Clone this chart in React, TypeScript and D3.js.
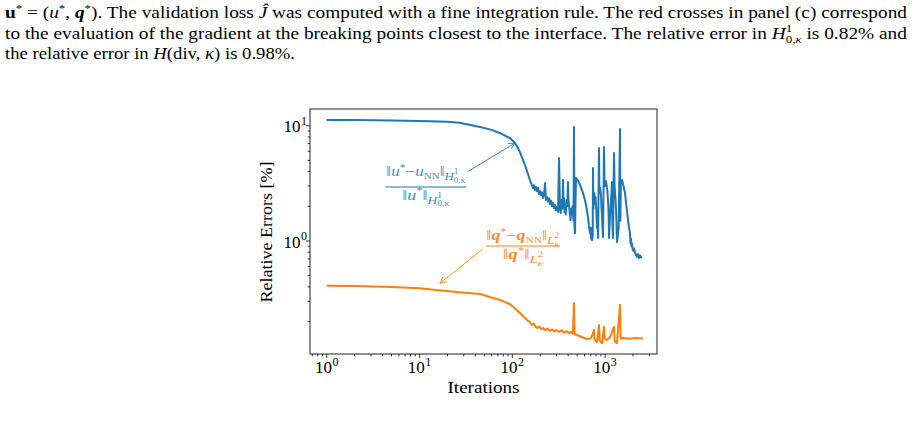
import React from "react";
import * as d3 from "d3";

// relative H^1 error of u, [iteration, percent]
const uError: [number, number][] = [
  [1, 11.2], [2, 11.2], [5, 11.1], [10, 11.0], [20, 10.8], [27, 10.6], [45, 9.75],
  [60, 9.2], [73, 8.65], [94, 7.82], [107, 7.08], [121, 5.91], [137, 4.56], [155, 3.38],
  [167, 2.88], [171, 3.05], [176, 2.77], [180, 2.95], [185, 2.7], [190, 2.9], [194, 2.56],
  [199, 2.7], [204, 2.5], [209, 2.65], [214, 2.36], [220, 2.5], [225, 3.18], [231, 2.27],
  [237, 2.4], [243, 2.2], [249, 2.35], [255, 2.09], [261, 2.25], [268, 2.0], [274, 2.15],
  [281, 1.93], [288, 2.05], [296, 1.85], [303, 1.98], [311, 1.78], [319, 5.25], [327, 1.86],
  [333, 1.75], [339, 2.27], [346, 1.9], [352, 3.38], [357, 2.0], [361, 2.35], [366, 1.78],
  [370, 2.0], [377, 1.7], [384, 2.27], [391, 2.0], [398, 3.25], [403, 2.3], [408, 2.05],
  [416, 1.75], [424, 1.52], [432, 1.9], [440, 1.7], [446, 2.0], [451, 1.68], [457, 1.5],
  [462, 9.75], [468, 1.3], [474, 1.17], [480, 2.2], [486, 3.52], [510, 3.35], [537, 3.06],
  [570, 2.7], [607, 2.27], [630, 1.95], [654, 1.61], [670, 1.35], [688, 1.17], [700, 1.3],
  [705, 1.05], [712, 1.25], [722, 1.02], [735, 1.1], [741, 4.3], [748, 1.9], [755, 2.5],
  [760, 2.1], [768, 2.6], [775, 2.1], [790, 2.4], [805, 1.8], [820, 1.3], [828, 1.6],
  [840, 1.06], [860, 6.41], [868, 2.6], [885, 2.9], [903, 2.5], [915, 1.9], [925, 1.7],
  [938, 1.3], [950, 1.08], [973, 6.53], [985, 3.4], [1000, 3.0], [1023, 3.3], [1045, 2.9],
  [1060, 2.7], [1075, 2.2], [1085, 2.0], [1095, 1.5], [1102, 1.06], [1115, 1.3], [1130, 1.6],
  [1160, 2.3], [1187, 3.25], [1195, 2.0], [1200, 1.4], [1215, 1.06], [1247, 5.8], [1265, 3.0],
  [1300, 2.2], [1315, 1.8], [1330, 1.3], [1343, 0.98], [1370, 1.1], [1400, 1.3], [1448, 9.36],
  [1460, 1.5], [1480, 3.2], [1521, 3.38], [1580, 3.0], [1638, 2.61], [1700, 2.0], [1766, 1.52],
  [1810, 1.3], [1854, 1.17], [1880, 0.95], [1900, 1.05], [1925, 0.9], [1950, 0.95], [1980, 0.85],
  [2020, 0.82], [2060, 0.86], [2100, 0.79], [2150, 0.76], [2207, 0.73], [2260, 0.77],
  [2320, 0.71], [2380, 0.75], [2440, 0.72], [2500, 0.73],
];

// relative L^2 error of q, [iteration, percent]
const qError: [number, number][] = [
  [1, 0.409], [2, 0.408], [5, 0.4], [10, 0.389], [15, 0.376], [25, 0.362], [45, 0.347],
  [57, 0.327], [74, 0.308], [94, 0.284], [112, 0.252], [127, 0.228], [144, 0.206], [155, 0.198],
  [163, 0.187], [170, 0.192], [178, 0.18], [185, 0.176], [195, 0.182], [205, 0.172], [215, 0.176],
  [228, 0.168], [240, 0.174], [255, 0.166], [270, 0.171], [285, 0.164], [300, 0.169], [320, 0.163],
  [340, 0.168], [360, 0.161], [388, 0.165], [410, 0.159], [430, 0.163], [450, 0.157], [462, 0.29],
  [470, 0.155], [498, 0.153], [560, 0.147], [638, 0.141], [700, 0.143], [722, 0.15], [759, 0.169],
  [770, 0.14], [818, 0.133], [860, 0.187], [875, 0.137], [926, 0.13], [973, 0.18], [990, 0.142],
  [1047, 0.138], [1128, 0.147], [1247, 0.18], [1270, 0.135], [1343, 0.13], [1448, 0.279],
  [1470, 0.142], [1560, 0.144], [1800, 0.142], [2100, 0.144], [2563, 0.143],
];

const xMajor = [1, 10, 100, 1000];
const xMajorExp = ["0", "1", "2", "3"];
const yMajor = [1, 10];
const yMajorExp = ["0", "1"];

// annotation anchors (data coords)
const uLabelAt: [number, number] = [11.7, 2.94];
const uArrowTip: [number, number] = [107, 7.08];
const qLabelAt: [number, number] = [130, 0.905];
const qArrowTip: [number, number] = [16.6, 0.43];

const BLUE = "#1f77b4";
const ORANGE = "#ff7f0e";
const SERIF = "'Liberation Serif', 'DejaVu Serif', serif";

const plot = { left: 310, right: 657, top: 109, bottom: 354 };

function arrow(x1: number, y1: number, x2: number, y2: number) {
  const a = Math.atan2(y2 - y1, x2 - x1);
  const len = 7, spread = 0.45;
  const p1 = [x2 - len * Math.cos(a - spread), y2 - len * Math.sin(a - spread)];
  const p2 = [x2 - len * Math.cos(a + spread), y2 - len * Math.sin(a + spread)];
  return `M${x1},${y1}L${x2},${y2}M${p1[0]},${p1[1]}L${x2},${y2}L${p2[0]},${p2[1]}`;
}

// H^1_{0,κ} or L^2_κ style norm subscript
function NormSub({ base, sup, sub, subItalic }: { base: string; sup: string; sub: string; subItalic?: boolean }) {
  return (
    <>
      <tspan fontSize={10.5} fontStyle="italic" dy={4}>{base}</tspan>
      <tspan fontSize={7.5} dy={-6}>{sup}</tspan>
      <tspan fontSize={7.5} dx={-3.8} dy={8.5} fontStyle={subItalic ? "italic" : "normal"}>{sub}</tspan>
    </>
  );
}

export default function App() {
  const x = d3.scaleLog().domain([0.661, 3625]).range([plot.left, plot.right]);
  const y = d3.scaleLog().domain([0.1047, 13.96]).range([plot.bottom, plot.top]);

  const line = d3
    .line<[number, number]>()
    .x((d) => x(d[0]))
    .y((d) => y(d[1]));

  const [xd0, xd1] = x.domain();
  const [yd0, yd1] = y.domain();
  const xMinor: number[] = [];
  for (let k = -1; k <= 3; k++)
    for (let m = 2; m <= 9; m++) {
      const v = m * Math.pow(10, k);
      if (v >= xd0 && v <= xd1) xMinor.push(v);
    }
  const yMinor: number[] = [];
  for (let k = -1; k <= 1; k++)
    for (let m = 2; m <= 9; m++) {
      const v = m * Math.pow(10, k);
      if (v >= yd0 && v <= yd1) yMinor.push(v);
    }

  const ux = x(uLabelAt[0]), uy = y(uLabelAt[1]);
  const qx = x(qLabelAt[0]), qy = y(qLabelAt[1]);

  return (
    <svg width={915} height={442} style={{ position: "absolute", left: 0, top: 0 }} fontFamily={SERIF}>
      <rect width={915} height={442} fill="#fff" />

      {/* paragraph above the figure */}
      <g fontSize={16.5} fill="#000">
        <text x={5} y={18} textLength={902} lengthAdjust="spacingAndGlyphs">
          <tspan fontWeight="bold">u</tspan>
          <tspan fontSize={11} dy={-6}>*</tspan>
          <tspan dy={6}> = (</tspan>
          <tspan fontStyle="italic">u</tspan>
          <tspan fontSize={11} dy={-6}>*</tspan>
          <tspan dy={6}>, </tspan>
          <tspan fontStyle="italic" fontWeight="bold">q</tspan>
          <tspan fontSize={11} dy={-6}>*</tspan>
          <tspan dy={6}>). The validation loss </tspan>
          <tspan fontStyle="italic">Ĵ</tspan>
          <tspan> was computed with a fine integration rule. The red crosses in panel (c) correspond</tspan>
        </text>
        <text x={5} y={38.5} textLength={902} lengthAdjust="spacingAndGlyphs">
          <tspan>to the evaluation of the gradient at the breaking points closest to the interface. The relative error in </tspan>
          <tspan fontStyle="italic">H</tspan>
          <tspan fontSize={11} dy={-7}>1</tspan>
          <tspan fontSize={11} dx={-5.5} dy={11}>0,</tspan>
          <tspan fontSize={11} fontStyle="italic">κ</tspan>
          <tspan dy={-4}> is 0.82% and</tspan>
        </text>
        <text x={5} y={59} textLength={290} lengthAdjust="spacingAndGlyphs">
          <tspan>the relative error in </tspan>
          <tspan fontStyle="italic">H</tspan>
          <tspan>(div, </tspan>
          <tspan fontStyle="italic">κ</tspan>
          <tspan>) is 0.98%.</tspan>
        </text>
      </g>

      <defs>
        <clipPath id="plotclip">
          <rect x={plot.left} y={plot.top} width={plot.right - plot.left} height={plot.bottom - plot.top} />
        </clipPath>
      </defs>

      {/* data */}
      <g clipPath="url(#plotclip)" fill="none" strokeWidth={2} strokeLinejoin="round">
        <path d={line(uError) || ""} stroke={BLUE} />
        <path d={line(qError) || ""} stroke={ORANGE} />
      </g>

      {/* frame */}
      <rect x={plot.left} y={plot.top} width={plot.right - plot.left} height={plot.bottom - plot.top}
        fill="none" stroke="#222" strokeWidth={1} />

      {/* ticks */}
      <g stroke="#000" strokeWidth={0.8}>
        {xMajor.map((v) => (
          <line key={"xM" + v} x1={x(v)} x2={x(v)} y1={plot.bottom} y2={plot.bottom + 4} />
        ))}
        {xMinor.map((v) => (
          <line key={"xm" + v} x1={x(v)} x2={x(v)} y1={plot.bottom} y2={plot.bottom + 2.3} />
        ))}
        {yMajor.map((v) => (
          <line key={"yM" + v} x1={plot.left - 4} x2={plot.left} y1={y(v)} y2={y(v)} />
        ))}
        {yMinor.map((v) => (
          <line key={"ym" + v} x1={plot.left - 2.3} x2={plot.left} y1={y(v)} y2={y(v)} />
        ))}
      </g>
      <g fontSize={17} fill="#000">
        {xMajor.map((v, i) => (
          <text key={"xl" + v} x={x(v)} y={373} textAnchor="middle">
            10<tspan fontSize={12} dy={-7.5} dx={0.5}>{xMajorExp[i]}</tspan>
          </text>
        ))}
        {yMajor.map((v, i) => (
          <text key={"yl" + v} x={307} y={y(v) + 6.5} textAnchor="end">
            10<tspan fontSize={12} dy={-7.5} dx={0.5}>{yMajorExp[i]}</tspan>
          </text>
        ))}
        <text x={(plot.left + plot.right) / 2} y={393} textAnchor="middle" textLength={72} lengthAdjust="spacingAndGlyphs">
          Iterations
        </text>
        <text transform={`translate(272,232) rotate(-90)`} textAnchor="middle" textLength={141} lengthAdjust="spacingAndGlyphs">
          Relative Errors [%]
        </text>
      </g>

      {/* u annotation */}
      <g fill={BLUE} fontSize={14} opacity={0.85}>
        <text x={ux} y={uy - 11} textAnchor="middle" textLength={79} lengthAdjust="spacingAndGlyphs">
          ‖<tspan fontStyle="italic">u</tspan>
          <tspan fontSize={9.5} dy={-5.5}>*</tspan>
          <tspan dy={5.5}>{"−"}</tspan>
          <tspan fontStyle="italic">u</tspan>
          <tspan fontSize={9} dy={2.5}>NN</tspan>
          <tspan dy={-2.5}>‖</tspan>
          <NormSub base="H" sup="1" sub="0,κ" />
        </text>
        <text x={ux} y={uy + 12.5} textAnchor="middle" textLength={47} lengthAdjust="spacingAndGlyphs">
          ‖<tspan fontStyle="italic">u</tspan>
          <tspan fontSize={9.5} dy={-5.5}>*</tspan>
          <tspan dy={5.5}>‖</tspan>
          <NormSub base="H" sup="1" sub="0,κ" />
        </text>
      </g>
      <line x1={ux - 40.5} x2={ux + 40.5} y1={uy} y2={uy} stroke={BLUE} strokeWidth={1} />
      <path d={arrow(ux + 43, uy - 16, x(uArrowTip[0]), y(uArrowTip[1]))} stroke={BLUE} strokeWidth={0.9} fill="none" />

      {/* q annotation */}
      <g fill={ORANGE} fontSize={14} opacity={0.9}>
        <text x={qx} y={qy - 6} textAnchor="middle" textLength={73} lengthAdjust="spacingAndGlyphs">
          ‖<tspan fontStyle="italic" fontWeight="bold">q</tspan>
          <tspan fontSize={9.5} dy={-5.5}>*</tspan>
          <tspan dy={5.5}>{"−"}</tspan>
          <tspan fontStyle="italic" fontWeight="bold">q</tspan>
          <tspan fontSize={9} dy={2.5}>NN</tspan>
          <tspan dy={-2.5}>‖</tspan>
          <NormSub base="L" sup="2" sub="κ" subItalic />
        </text>
        <text x={qx} y={qy + 13} textAnchor="middle" textLength={40} lengthAdjust="spacingAndGlyphs">
          ‖<tspan fontStyle="italic" fontWeight="bold">q</tspan>
          <tspan fontSize={9.5} dy={-5.5}>*</tspan>
          <tspan dy={5.5}>‖</tspan>
          <NormSub base="L" sup="2" sub="κ" subItalic />
        </text>
      </g>
      <line x1={qx - 37} x2={qx + 37} y1={qy} y2={qy} stroke={ORANGE} strokeWidth={1} />
      <path d={arrow(qx - 40, qy + 3, x(qArrowTip[0]), y(qArrowTip[1]))} stroke={ORANGE} strokeWidth={0.9} fill="none" />
    </svg>
  );
}
